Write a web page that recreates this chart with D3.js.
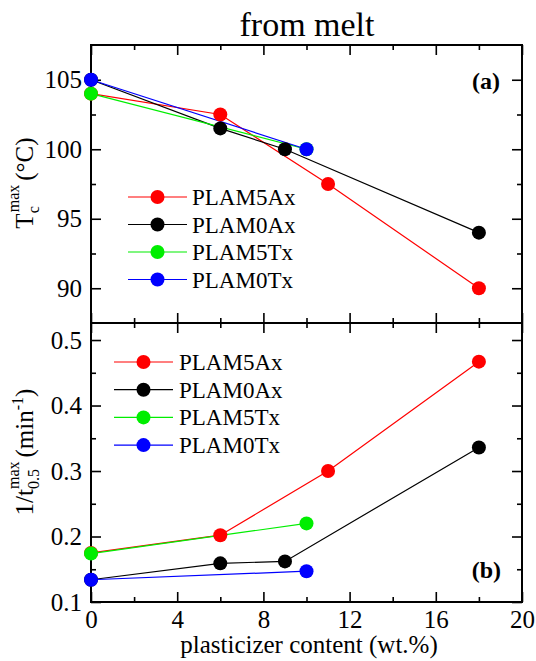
<!DOCTYPE html>
<html>
<head>
<meta charset="utf-8">
<script src="https://cdn.jsdelivr.net/npm/d3@7"></script>
<style>
  body { margin: 0; background: #fff; }
</style>
</head>
<body>
<script>
// data
var names = ["PLAM5Ax", "PLAM0Ax", "PLAM5Tx", "PLAM0Tx"];
var colors = ["#ff0000", "#000000", "#00ee00", "#0000ff"];

var tcX = [[0, 6, 11, 18], [0, 6, 9, 18], [0, 10], [0, 10]];
var tcY = [[104, 102.5, 97.5, 90], [105, 101.5, 100, 94], [104, 100], [105, 100]];

var rateX = [[0, 6, 11, 18], [0, 6, 9, 18], [0, 10], [0, 10]];
var rateY = [[0.175, 0.202, 0.300, 0.467], [0.134, 0.159, 0.162, 0.336], [0.174, 0.220], [0.134, 0.147]];

var xTicks = [0, 4, 8, 12, 16, 20];
var xMinor = [2, 6, 10, 14, 18];
var tcTicks = [90, 95, 100, 105];
var tcMinor = [92.5, 97.5, 102.5];
var rateTicks = [0.1, 0.2, 0.3, 0.4, 0.5];
var rateMinor = [0.15, 0.25, 0.35, 0.45];

var FONT = "'Liberation Serif', 'Times New Roman', Times, serif";
var W = 536, H = 661;
var left = 91, right = 522, top1 = 45, mid = 323, bot = 602;

var svg = d3.select("body").append("svg")
    .attr("width", W)
    .attr("height", H)
    .style("font-family", FONT);

var x = d3.scaleLinear().domain([0, 20]).range([left, right]);
var yTop = d3.scaleLinear().domain([87.5, 107.5]).range([mid, top1]);
var yBot = d3.scaleLinear().domain([0.1, 0.526]).range([bot, mid]);

function styleAxis(g) {
    g.attr("font-family", null).attr("font-size", null);
    g.select(".domain").remove();
    g.selectAll(".tick line").attr("stroke", "#000").attr("stroke-width", 1.6);
    g.selectAll(".tick text")
        .style("font-family", FONT)
        .style("font-size", "25px")
        .attr("fill", "#000");
}

function drawPanel(y, yt, ym, fmt, isBottom) {
    var y0 = y.range()[0], y1 = y.range()[1];

    // left
    svg.append("g").attr("transform", "translate(" + left + ",0)")
        .call(d3.axisLeft(y).tickValues(yt).tickSize(-10).tickSizeOuter(0).tickPadding(9).tickFormat(fmt))
        .call(styleAxis);
    svg.append("g").attr("transform", "translate(" + left + ",0)")
        .call(d3.axisLeft(y).tickValues(ym).tickSize(-5).tickSizeOuter(0).tickFormat(""))
        .call(styleAxis);
    // right
    svg.append("g").attr("transform", "translate(" + right + ",0)")
        .call(d3.axisRight(y).tickValues(yt).tickSize(-10).tickSizeOuter(0).tickFormat(""))
        .call(styleAxis);
    svg.append("g").attr("transform", "translate(" + right + ",0)")
        .call(d3.axisRight(y).tickValues(ym).tickSize(-5).tickSizeOuter(0).tickFormat(""))
        .call(styleAxis);
    // top (ticks pointing down)
    svg.append("g").attr("transform", "translate(0," + y1 + ")")
        .call(d3.axisTop(x).tickValues(xTicks).tickSize(-10).tickSizeOuter(0).tickFormat(""))
        .call(styleAxis);
    svg.append("g").attr("transform", "translate(0," + y1 + ")")
        .call(d3.axisTop(x).tickValues(xMinor).tickSize(-5).tickSizeOuter(0).tickFormat(""))
        .call(styleAxis);
    // bottom (ticks pointing up)
    svg.append("g").attr("transform", "translate(0," + y0 + ")")
        .call(d3.axisBottom(x).tickValues(xTicks).tickSize(-10).tickSizeOuter(0).tickPadding(8)
            .tickFormat(isBottom ? d3.format("d") : ""))
        .call(styleAxis);
    svg.append("g").attr("transform", "translate(0," + y0 + ")")
        .call(d3.axisBottom(x).tickValues(xMinor).tickSize(-5).tickSizeOuter(0).tickFormat(""))
        .call(styleAxis);

    svg.append("rect")
        .attr("x", left).attr("y", y1)
        .attr("width", right - left).attr("height", y0 - y1)
        .attr("fill", "none").attr("stroke", "#000").attr("stroke-width", 2);
}

function drawSeries(y, xs, ys) {
    var line = d3.line().x(function(d) { return x(d[0]); }).y(function(d) { return y(d[1]); });
    names.forEach(function(n, i) {
        var pts = d3.zip(xs[i], ys[i]);
        svg.append("path")
            .datum(pts)
            .attr("d", line)
            .attr("fill", "none")
            .attr("stroke", colors[i])
            .attr("stroke-width", 1.2);
    });
    names.forEach(function(n, i) {
        var pts = d3.zip(xs[i], ys[i]);
        svg.append("g").selectAll("circle")
            .data(pts)
            .enter()
            .append("circle")
            .attr("cx", function(d) { return x(d[0]); })
            .attr("cy", function(d) { return y(d[1]); })
            .attr("r", 7)
            .attr("fill", colors[i]);
    });
}

function drawLegend(x0, x1, tx, yStart, step) {
    names.forEach(function(n, i) {
        var yy = yStart + i * step;
        svg.append("line")
            .attr("x1", x0).attr("x2", x1)
            .attr("y1", yy).attr("y2", yy)
            .attr("stroke", colors[i]).attr("stroke-width", 1.2);
        svg.append("circle")
            .attr("cx", (x0 + x1) / 2).attr("cy", yy)
            .attr("r", 7).attr("fill", colors[i]);
        svg.append("text")
            .attr("x", tx).attr("y", yy + 8)
            .style("font-size", "23px")
            .text(n);
    });
}

drawPanel(yTop, tcTicks, tcMinor, d3.format("d"), false);
drawPanel(yBot, rateTicks, rateMinor, d3.format(".1f"), true);

drawSeries(yTop, tcX, tcY);
drawSeries(yBot, rateX, rateY);

drawLegend(128, 187, 192, 197, 27.5);
drawLegend(114, 173, 179, 362, 27.7);

// panel tags
svg.append("text").attr("x", 500).attr("y", 89)
    .attr("text-anchor", "end").style("font-size", "24px").style("font-weight", "bold")
    .text("(a)");
svg.append("text").attr("x", 501).attr("y", 578)
    .attr("text-anchor", "end").style("font-size", "24px").style("font-weight", "bold")
    .text("(b)");

// title
svg.append("text").attr("x", 307).attr("y", 36)
    .attr("text-anchor", "middle").style("font-size", "34px")
    .text("from melt");

// x label
svg.append("text").attr("x", 309).attr("y", 653)
    .attr("text-anchor", "middle").style("font-size", "25px")
    .text("plasticizer content (wt.%)");

// y labels
var yl1 = svg.append("text")
    .attr("transform", "translate(33,183) rotate(-90)")
    .attr("text-anchor", "middle").style("font-size", "25px");
yl1.append("tspan").text("T");
yl1.append("tspan").attr("dy", 6).style("font-size", "16px").text("c");
yl1.append("tspan").attr("dx", -6).attr("dy", -20).style("font-size", "16px").text("max");
yl1.append("tspan").attr("dx", 4).attr("dy", 14).text("(°C)");

var yl2 = svg.append("text")
    .attr("transform", "translate(33,452) rotate(-90)")
    .attr("text-anchor", "middle").style("font-size", "25px");
yl2.append("tspan").text("1/t");
yl2.append("tspan").attr("dy", 6).style("font-size", "16px").text("0.5");
yl2.append("tspan").attr("dx", -20).attr("dy", -20).style("font-size", "16px").text("max");
yl2.append("tspan").attr("dx", 4).attr("dy", 14).text("(min");
yl2.append("tspan").attr("dy", -10).style("font-size", "16px").text("-1");
yl2.append("tspan").attr("dy", 10).text(")");
</script>
</body>
</html>
